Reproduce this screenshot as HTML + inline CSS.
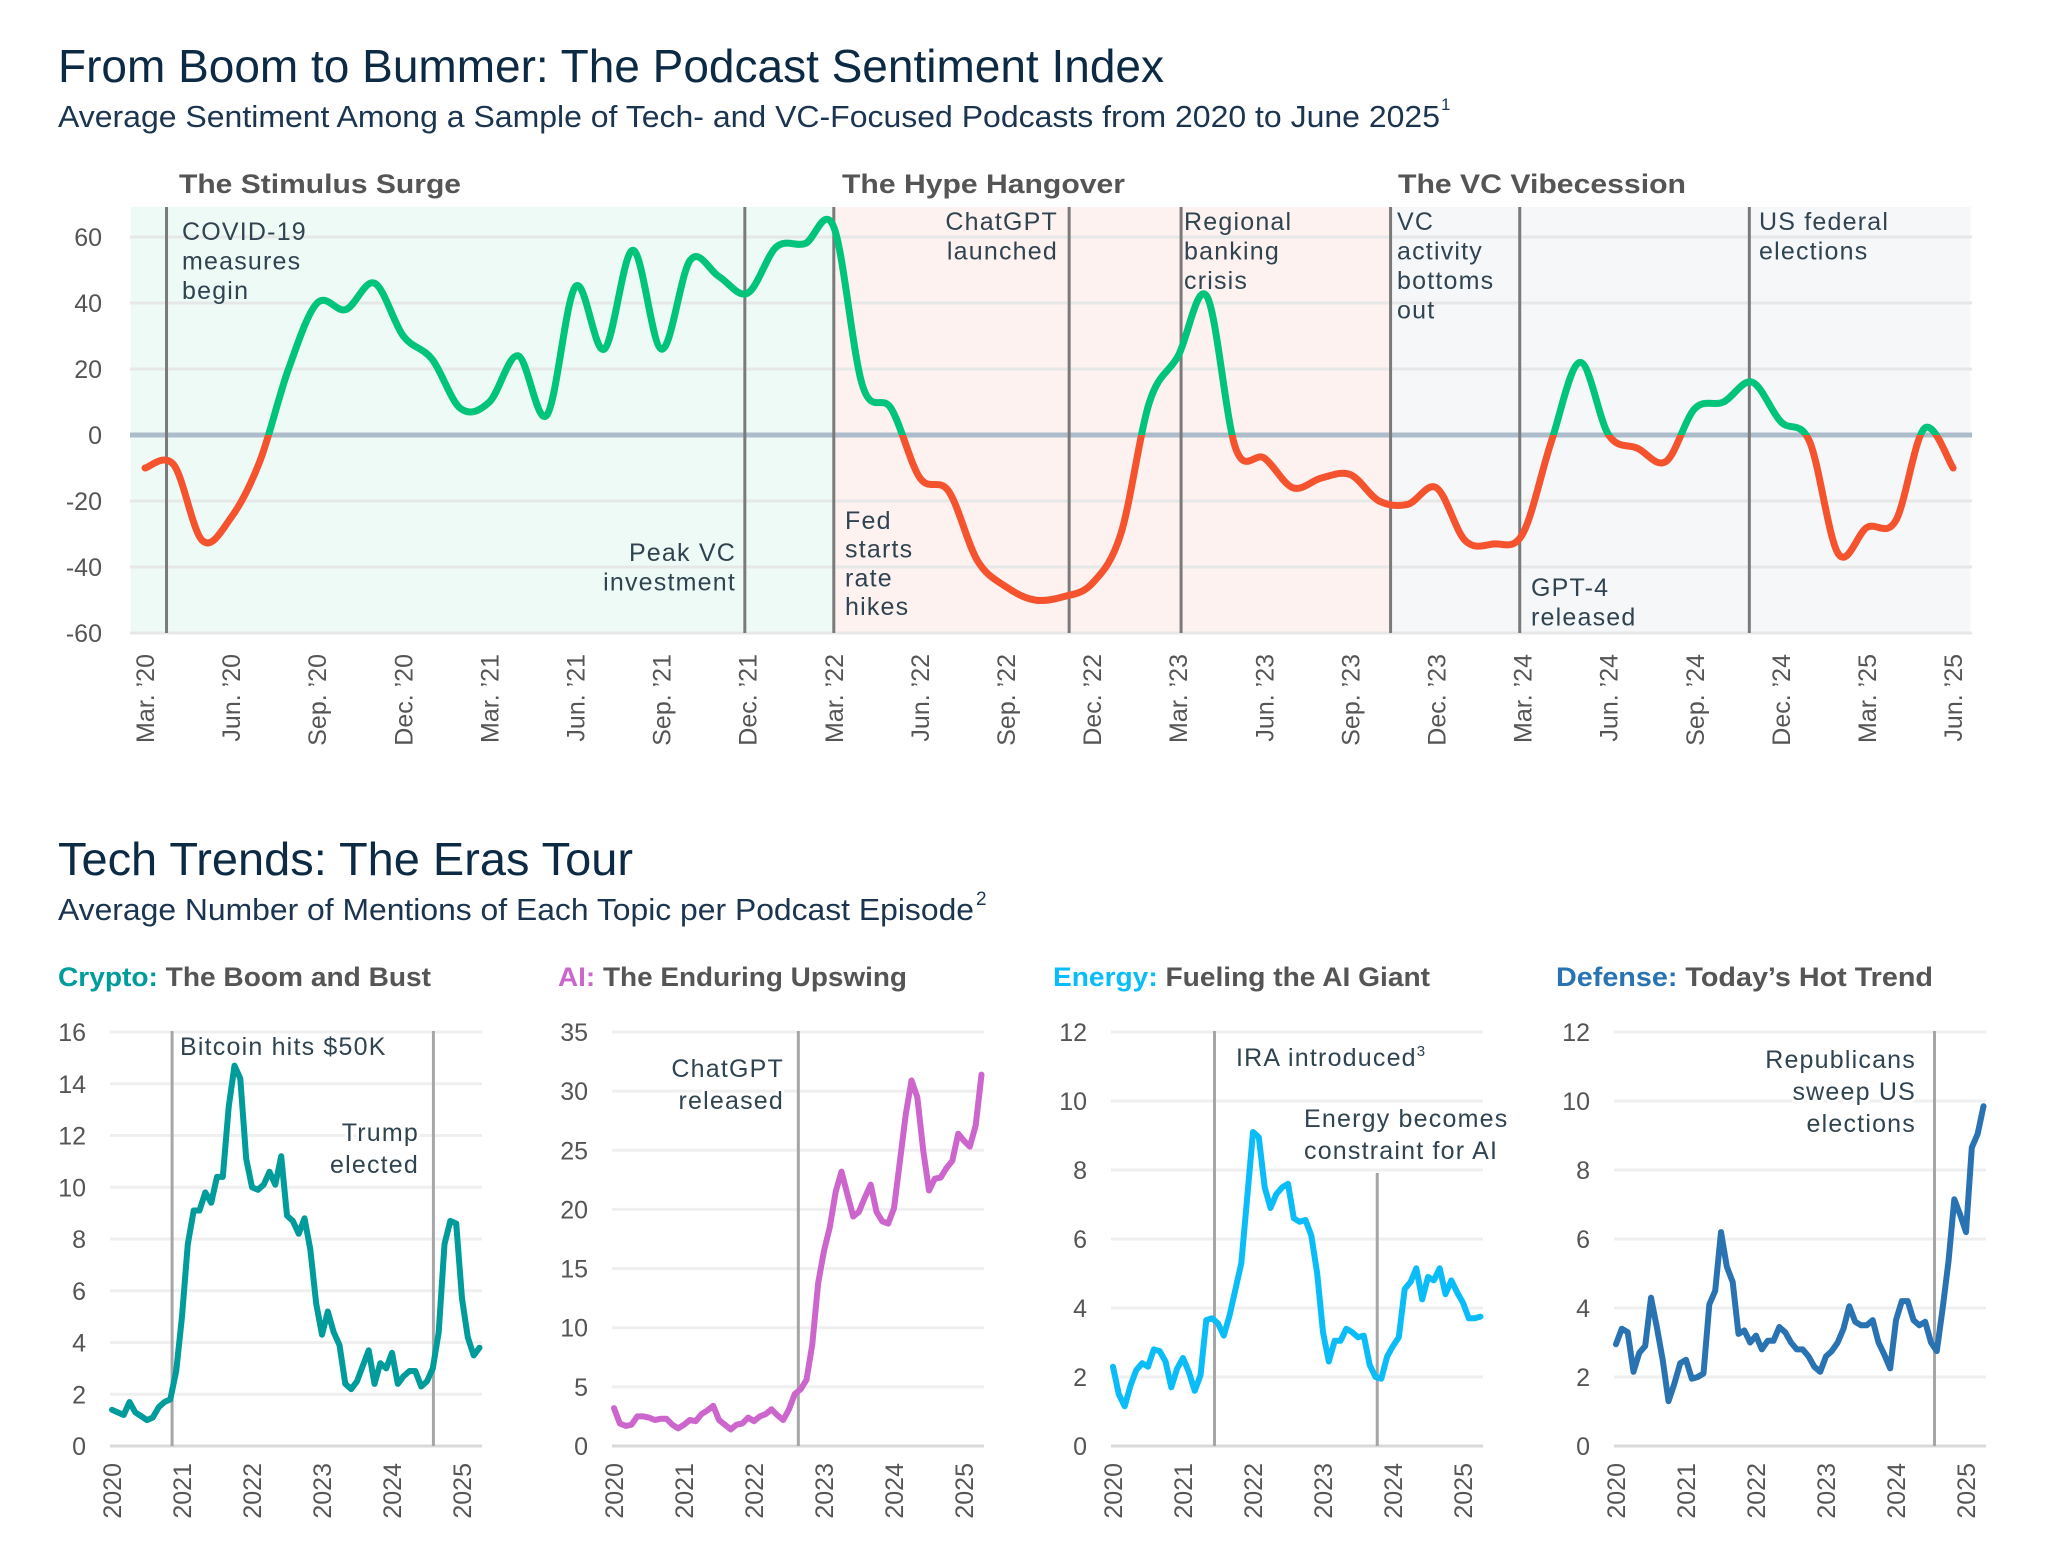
<!DOCTYPE html>
<html><head><meta charset="utf-8"><style>
html,body{margin:0;padding:0;background:#fff;}
svg{display:block;font-family:"Liberation Sans",sans-serif;}
.ann{font-size:25px;fill:#2f4350;letter-spacing:1.2px;}
.tick{font-size:25px;fill:#555;}
.era{font-size:27px;font-weight:bold;fill:#555;}
</style></head><body>
<svg id="chart" width="2064" height="1564" viewBox="0 0 2064 1564" xmlns="http://www.w3.org/2000/svg">
<text x="58" y="82" font-size="46" fill="#0d2a45" textLength="1106" lengthAdjust="spacingAndGlyphs">From Boom to Bummer: The Podcast Sentiment Index</text>
<text x="58" y="127" font-size="31" fill="#1b3550" textLength="1382" lengthAdjust="spacingAndGlyphs">Average Sentiment Among a Sample of Tech- and VC-Focused Podcasts from 2020 to June 2025</text>
<text x="1441" y="110" font-size="17" fill="#1b3550">1</text>
<text x="58" y="875" font-size="46" fill="#0d2a45" textLength="575" lengthAdjust="spacingAndGlyphs">Tech Trends: The Eras Tour</text>
<text x="58" y="920" font-size="31" fill="#1b3550" textLength="916" lengthAdjust="spacingAndGlyphs">Average Number of Mentions of Each Topic per Podcast Episode</text>
<text x="976" y="905" font-size="19" fill="#1b3550">2</text>
<g id="topchart"></g>
<g id="bottomchart"></g>
</svg>
<script>
// ---- Sentiment index data (monthly, Mar 2020 .. Jun 2025) ----
const sentimentMonths = ["Mar. ’20","Jun. ’20","Sep. ’20","Dec. ’20","Mar. ’21","Jun. ’21","Sep. ’21","Dec. ’21","Mar. ’22","Jun. ’22","Sep. ’22","Dec. ’22","Mar. ’23","Jun. ’23","Sep. ’23","Dec. ’23","Mar. ’24","Jun. ’24","Sep. ’24","Dec. ’24","Mar. ’25","Jun. ’25"];
const sentimentValues = [-10,-9,-32,-25,-8,20,40,38,46,30,
 23,8,10,24,6,45,26,56,26,53,48,43,
 57,58,63,15,8,-13,-17,-38,-46,-50,-49,-45,
 -30,10,24,42,-4,-7,-16,-13,-12,-20,-21,-16,
 -32,-33,-30,-2,22,0,-4,-8,8,10,16,4,
 -2,-36,-28,-26,2,-10];
const sentimentTicks = [-60,-40,-20,0,20,40,60];
const eraNames = ["The Stimulus Surge","The Hype Hangover","The VC Vibecession"];
const eraStart = [-0.5,24,43.4];
const eraEnd = [24,43.4,63.6];
const eventMonths = [0.75,20.9,24,32.2,36.1,43.4,47.9,55.9];

// ---- Topic panels data (monthly from Jan 2020) ----
const yearLabels = ["2020","2021","2022","2023","2024","2025"];
const cryptoValues = [1.4,1.3,1.2,1.7,1.3,1.15,1.0,1.1,1.5,1.7,1.8,2.9,5.0,7.8,9.1,9.1,9.8,9.4,10.4,10.4,13.1,14.7,14.2,11.1,10.0,9.9,10.1,10.6,10.1,11.2,8.9,8.7,8.2,8.8,7.6,5.5,4.3,5.2,4.4,3.9,2.4,2.2,2.5,3.1,3.7,2.4,3.2,3.0,3.6,2.4,2.7,2.9,2.9,2.3,2.5,3.0,4.4,7.8,8.7,8.6,5.7,4.2,3.5,3.8];
const aiValues = [3.2,1.9,1.7,1.8,2.5,2.5,2.4,2.2,2.3,2.3,1.8,1.5,1.8,2.2,2.1,2.7,3.0,3.4,2.2,1.8,1.4,1.8,1.9,2.4,2.1,2.5,2.7,3.1,2.6,2.2,3.1,4.4,4.8,5.6,8.6,13.8,16.5,18.5,21.5,23.2,21.3,19.4,19.8,21.0,22.1,19.8,19.0,18.8,20.1,24.0,28.0,30.9,29.5,25.0,21.6,22.6,22.7,23.5,24.1,26.4,25.8,25.3,27.1,31.4];
const energyValues = [2.3,1.5,1.15,1.75,2.2,2.4,2.3,2.8,2.75,2.45,1.7,2.25,2.55,2.15,1.6,2.05,3.65,3.7,3.55,3.2,3.8,4.55,5.3,7.2,9.1,8.95,7.5,6.9,7.3,7.5,7.6,6.6,6.5,6.55,6.1,5.0,3.3,2.45,3.05,3.05,3.4,3.3,3.15,3.2,2.35,2.0,1.95,2.6,2.9,3.15,4.55,4.75,5.15,4.25,4.9,4.8,5.15,4.4,4.8,4.45,4.15,3.7,3.7,3.75];
const defenseValues = [2.95,3.4,3.3,2.15,2.7,2.9,4.3,3.45,2.5,1.3,1.8,2.4,2.5,1.95,2.0,2.1,4.1,4.5,6.2,5.2,4.75,3.25,3.35,3.0,3.2,2.8,3.05,3.05,3.45,3.3,3.0,2.8,2.8,2.6,2.3,2.15,2.6,2.75,3.0,3.4,4.05,3.6,3.5,3.5,3.65,3.0,2.65,2.25,3.65,4.2,4.2,3.65,3.5,3.6,3.0,2.75,4.0,5.35,7.15,6.7,6.2,8.65,9.05,9.85];
const cryptoTicks = [0,2,4,6,8,10,12,14,16];
const aiTicks = [0,5,10,15,20,25,30,35];
const energyTicks = [0,2,4,6,8,10,12];
const defenseTicks = [0,2,4,6,8,10,12];
const cryptoEvents = [10.3,55.1];
const aiEvents = [31.6];
const energyEvents = [17.4,45.3];
const defenseEvents = [54.6];

const NS = "http://www.w3.org/2000/svg";
function mk(tag, attrs, parent){ const e=document.createElementNS(NS,tag); for(const k in attrs) e.setAttribute(k,attrs[k]); parent.appendChild(e); return e; }
function txt(content, attrs, parent){ const e=mk("text",attrs,parent); e.textContent=content; return e; }
function smooth(pts){
  let d="M"+pts[0][0].toFixed(1)+","+pts[0][1].toFixed(1);
  for(let i=0;i<pts.length-1;i++){
    const p0=pts[Math.max(0,i-1)],p1=pts[i],p2=pts[i+1],p3=pts[Math.min(pts.length-1,i+2)];
    const c1=[p1[0]+(p2[0]-p0[0])/6,p1[1]+(p2[1]-p0[1])/6];
    const c2=[p2[0]-(p3[0]-p1[0])/6,p2[1]-(p3[1]-p1[1])/6];
    d+=" C"+c1[0].toFixed(1)+","+c1[1].toFixed(1)+" "+c2[0].toFixed(1)+","+c2[1].toFixed(1)+" "+p2[0].toFixed(1)+","+p2[1].toFixed(1);
  }
  return d;
}

// ---------- TOP CHART ----------
const topG=document.getElementById("topchart");
const tL=130,tR=1972,tTop=207,tBot=633;
const tx=m=>145+m*28.7;
const ty=v=>435-v*(198/60);
const shadeCols=["#eefaf5","#fdf2ef","#f6f7f9"];
eraNames.forEach((n,i)=>{
  const x0=Math.max(tL,tx(eraStart[i])), x1=Math.min(tR,tx(eraEnd[i]));
  const r=mk("rect",{x:x0,y:tTop,width:x1-x0,height:tBot-tTop,fill:shadeCols[i]},topG);
  
  
});
sentimentTicks.forEach(v=>{
  const l=mk("line",{x1:tL,x2:tR,y1:ty(v),y2:ty(v),stroke:"#e6e8e8","stroke-width":3},topG);
  
  
  const t=txt(String(v),{x:102,y:ty(v)+9,"text-anchor":"end",class:"tick"},topG);
  
  
});
sentimentMonths.forEach((lab,i)=>{
  const x=tx(i*3);
  const t=txt(lab,{x:0,y:0,"text-anchor":"end",class:"tick",transform:"translate("+(x+9)+",654) rotate(-90)"},topG);
  
  
});
const zl=mk("line",{x1:tL,x2:tR,y1:ty(0),y2:ty(0),stroke:"#adbccb","stroke-width":5},topG);


eventMonths.forEach(m=>{
  const l=mk("line",{x1:tx(m),x2:tx(m),y1:tTop,y2:tBot,stroke:"#7a7a7a","stroke-width":3},topG);
  
  
});
const defs=mk("defs",{},topG);
const cpA=mk("clipPath",{id:"above"},defs); mk("rect",{x:0,y:0,width:2064,height:ty(0)},cpA);
const cpB=mk("clipPath",{id:"below"},defs); mk("rect",{x:0,y:ty(0),width:2064,height:800},cpB);
const spts=sentimentValues.map((v,i)=>[tx(i),ty(v)]);
const sd=smooth(spts);
const pg=mk("path",{d:sd,fill:"none",stroke:"#00c47a","stroke-width":7,"stroke-linecap":"round","clip-path":"url(#above)"},topG);


const pr=mk("path",{d:sd,fill:"none",stroke:"#f4532e","stroke-width":7,"stroke-linecap":"round","clip-path":"url(#below)"},topG);


const eraX=[179,842,1398], eraW=[282,283,288];
eraNames.forEach((n,i)=>{
  const t=txt(n,{x:eraX[i],y:193,class:"era",textLength:eraW[i],lengthAdjust:"spacingAndGlyphs"},topG);
  
  
});
function annot(lines,x,y,anchor,parent,name,dy){
  const t=mk("text",{class:"ann","text-anchor":anchor},parent);
  
  
  lines.forEach((s,i)=>{ const ts=mk("tspan",{x:x,y:y+i*(dy||29.5)},t); ts.textContent=s; });
  return t;
}
annot(["COVID-19","measures","begin"],182,240,"start",topG,"annotation-covid");
annot(["Peak VC","investment"],736,561,"end",topG,"annotation-peak-vc");
annot(["Fed","starts","rate","hikes"],845,529,"start",topG,"annotation-fed-hikes",28.7);
annot(["ChatGPT","launched"],1058,230,"end",topG,"annotation-chatgpt");
annot(["Regional","banking","crisis"],1184,230,"start",topG,"annotation-banking");
annot(["VC","activity","bottoms","out"],1397,230,"start",topG,"annotation-vc-bottom");
annot(["GPT-4","released"],1531,596,"start",topG,"annotation-gpt4");
annot(["US federal","elections"],1759,230,"start",topG,"annotation-us-elections");

// ---------- BOTTOM PANELS ----------
const botG=document.getElementById("bottomchart");
const panels=[
 {name:"crypto",label:"Crypto:",rest:" The Boom and Bust",tx:58,tw:373,color:"#009b9b",x0:112,vals:cryptoValues,ticks:cryptoTicks,events:cryptoEvents,evTop:[1031,1031]},
 {name:"ai",label:"AI:",rest:" The Enduring Upswing",tx:558,tw:349,color:"#cc66cc",x0:614,vals:aiValues,ticks:aiTicks,events:aiEvents,evTop:[1031]},
 {name:"energy",label:"Energy:",rest:" Fueling the AI Giant",tx:1053,tw:377,color:"#0abdf8",x0:1113,vals:energyValues,ticks:energyTicks,events:energyEvents,evTop:[1031,1173]},
 {name:"defense",label:"Defense:",rest:" Today’s Hot Trend",tx:1556,tw:377,color:"#2a73b2",x0:1616,vals:defenseValues,ticks:defenseTicks,events:defenseEvents,evTop:[1031]}
];
const bTop=1032,bBot=1446;
panels.forEach(p=>{
  const g=mk("g",{},botG);
  
  
  const tt=mk("text",{x:p.tx,y:986,"font-size":27,"font-weight":"bold",textLength:p.tw,lengthAdjust:"spacingAndGlyphs"},g);
  
  
  const a=mk("tspan",{fill:p.color},tt); a.textContent=p.label;
  const b=mk("tspan",{fill:"#555"},tt); b.textContent=p.rest;
  const maxV=p.ticks[p.ticks.length-1];
  const X=m=>p.x0+m*70/12;
  const Y=v=>bBot-v*(bBot-bTop)/maxV;
  p.ticks.forEach(v=>{
    const l=mk("line",{x1:p.x0-2,x2:p.x0+370,y1:Y(v),y2:Y(v),stroke:v===0?"#d9d9d9":"#efefef","stroke-width":3},g);
    
    
    const t=txt(String(v),{x:p.x0-26,y:Y(v)+9,"text-anchor":"end",class:"tick"},g);
    
    
  });
  yearLabels.forEach((lab,i)=>{
    const t=txt(lab,{x:0,y:0,"text-anchor":"end",class:"tick",transform:"translate("+(X(i*12)+9)+",1463) rotate(-90)"},g);
    
    
  });
  p.events.forEach((m,i)=>{
    const l=mk("line",{x1:X(m),x2:X(m),y1:p.evTop[i],y2:bBot,stroke:"#a6a6a6","stroke-width":3},g);
    
    
  });
  const pts=p.vals.map((v,i)=>X(i).toFixed(1)+","+Y(v).toFixed(1)).join(" ");
  const pl=mk("polyline",{points:pts,fill:"none",stroke:p.color,"stroke-width":6,"stroke-linejoin":"round","stroke-linecap":"round"},g);
  
  
  p.g=g;
});
function bAnn(lines,x,y,anchor,parent,name){
  const t=mk("text",{class:"ann","text-anchor":anchor,"font-size":24,stroke:"#fff","stroke-width":6,"paint-order":"stroke"},parent);
  
  
  lines.forEach((s,i)=>{ const ts=mk("tspan",{x:x,y:y+i*32},t); ts.textContent=s; });
  return t;
}
bAnn(["Bitcoin hits $50K"],180,1055,"start",panels[0].g,"annotation-bitcoin");
bAnn(["Trump","elected"],419,1141,"end",panels[0].g,"annotation-trump");
bAnn(["ChatGPT","released"],784,1077,"end",panels[1].g,"annotation-chatgpt-released");
const ira=bAnn(["IRA introduced"],1236,1066,"start",panels[2].g,"annotation-ira");
const sup=mk("tspan",{dy:-10,"font-size":15},ira); sup.textContent="3";
bAnn(["Energy becomes","constraint for AI"],1304,1127,"start",panels[2].g,"annotation-energy-constraint");
bAnn(["Republicans","sweep US","elections"],1916,1068,"end",panels[3].g,"annotation-republicans");
</script>
</body></html>
